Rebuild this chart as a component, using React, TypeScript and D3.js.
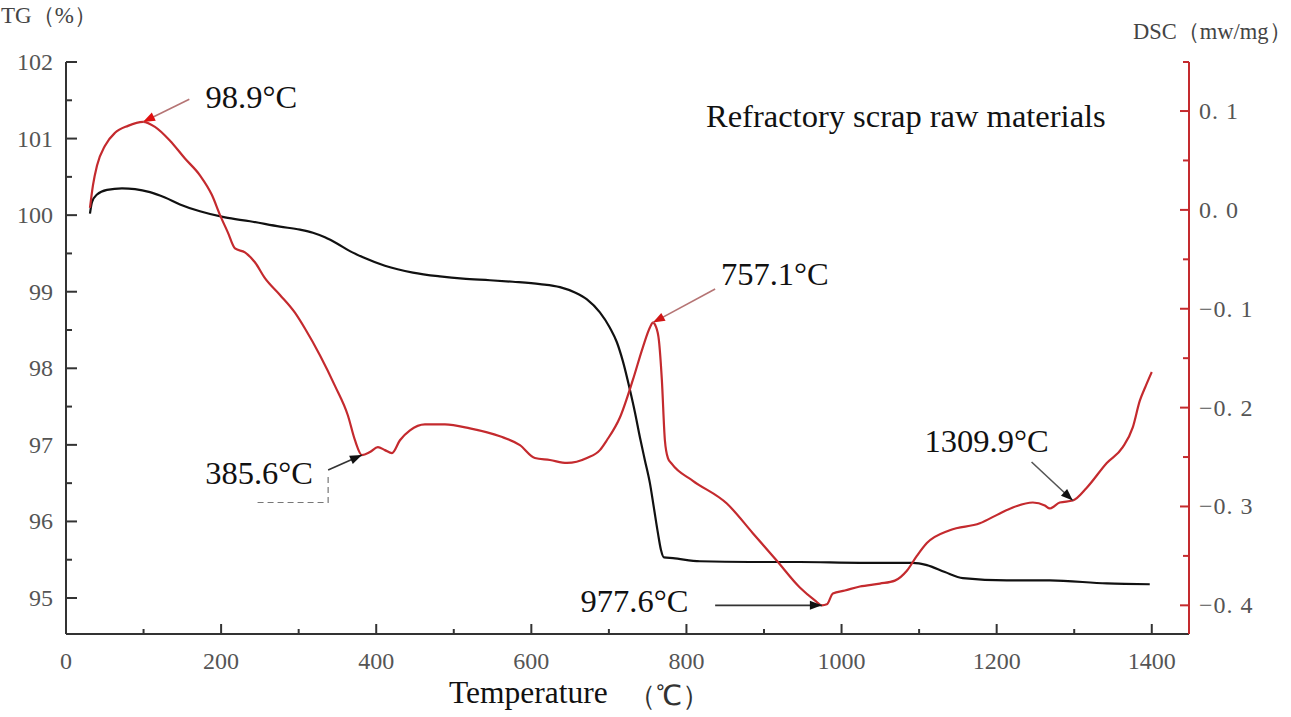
import React from "react";
import * as d3 from "d3";

// Temperature (°C) and TG (%)
const tgTemp = [30.9, 33.5, 40, 52.9, 72.2, 89, 108.3, 127.6, 147, 172.7, 205, 237.2, 275.9, 301.7, 318.4, 333.9, 349.4, 366.1, 382.9, 411.2, 447.3, 482.1, 511.8, 546.6, 576.3, 611.1, 636.9, 656.2, 671.7, 688.4, 701.3, 710.3, 718.1, 727.1, 733.5, 740, 746.4, 752.9, 758, 763.2, 767.1, 771, 782.6, 817.4, 881.8, 946.2, 1023.6, 1091.9, 1110, 1133.2, 1156.4, 1213.1, 1268.5, 1342, 1397.4];
const tgValues = [100.02, 100.17, 100.27, 100.33, 100.35, 100.34, 100.3, 100.23, 100.14, 100.05, 99.97, 99.92, 99.85, 99.81, 99.77, 99.71, 99.63, 99.53, 99.45, 99.34, 99.25, 99.2, 99.17, 99.15, 99.13, 99.1, 99.06, 98.99, 98.9, 98.73, 98.53, 98.34, 98.09, 97.72, 97.43, 97.1, 96.8, 96.5, 96.18, 95.85, 95.63, 95.53, 95.52, 95.48, 95.47, 95.47, 95.46, 95.46, 95.43, 95.34, 95.26, 95.23, 95.23, 95.19, 95.18];

// Temperature (°C) and DSC (mW/mg)
const dscTemp = [30.9, 34.8, 40, 50.3, 63.2, 79.9, 99.3, 114.7, 134.1, 153.4, 172.7, 188.2, 198.5, 208.8, 217.9, 230.7, 243.6, 256.5, 275.9, 295.2, 308.1, 327.4, 346.8, 363.5, 372.6, 381.6, 391.9, 402.2, 411.2, 420.3, 430.6, 443.5, 462.8, 488.6, 520.8, 559.5, 585.3, 604.6, 624, 645.9, 671.7, 688.4, 697.4, 714.2, 730.9, 743.8, 752.9, 756.7, 760.6, 764.5, 768.3, 772.2, 776.1, 781.2, 808.3, 852.1, 885.6, 916.6, 946.2, 965.6, 974.6, 981.1, 988.8, 1004.3, 1023.6, 1049.4, 1068.7, 1084.2, 1097.1, 1110, 1139.6, 1178.3, 1204.1, 1220.8, 1246.6, 1262.1, 1268.5, 1281.4, 1298.2, 1316.2, 1342, 1362.6, 1375.5, 1384.6, 1392.3, 1400];
const dscValues = [0.002, 0.025, 0.045, 0.065, 0.078, 0.085, 0.089, 0.084, 0.07, 0.052, 0.035, 0.015, -0.005, -0.023, -0.039, -0.043, -0.053, -0.069, -0.086, -0.104, -0.12, -0.147, -0.178, -0.208, -0.233, -0.248, -0.245, -0.24, -0.243, -0.246, -0.233, -0.223, -0.217, -0.217, -0.221, -0.229, -0.238, -0.251, -0.253, -0.256, -0.251, -0.243, -0.233, -0.21, -0.172, -0.139, -0.119, -0.114, -0.118, -0.132, -0.172, -0.233, -0.251, -0.257, -0.274, -0.297, -0.327, -0.355, -0.382, -0.395, -0.4, -0.399, -0.388, -0.385, -0.381, -0.378, -0.375, -0.365, -0.35, -0.337, -0.324, -0.317, -0.307, -0.301, -0.296, -0.299, -0.302, -0.296, -0.294, -0.281, -0.256, -0.24, -0.22, -0.193, -0.178, -0.164];

const xTicks = [0, 200, 400, 600, 800, 1000, 1200, 1400];
const xMinorTicks = [100, 300, 500, 700, 900, 1100, 1300];
const tgTicks = [95, 96, 97, 98, 99, 100, 101, 102];
const tgMinorTicks = [95.5, 96.5, 97.5, 98.5, 99.5, 100.5, 101.5];
const dscTicks = [0.1, 0.0, -0.1, -0.2, -0.3, -0.4];
const dscMinorTicks = [0.05, -0.05, -0.15, -0.25, -0.35];

// Annotations: label, temperature on the DSC curve, label centre (temperature, DSC value), arrow start
const peakLabels = ["98.9°C", "385.6°C", "757.1°C", "977.6°C", "1309.9°C"];
const peakTemps = [99.3, 381.6, 756.7, 974.6, 1298.2];
const labelTemps = [239, 249, 914, 733, 1187];
const labelDsc = [0.103, -0.277, -0.076, -0.407, -0.245];
const arrowStartTemps = [159, 338, 837, 837, 1245];
const arrowStartDsc = [0.112, -0.263, -0.08, -0.4, -0.255];
const arrowColors = ["#b57474", "#333", "#b57474", "#333", "#555"];
const headColors = ["#e01010", "#111", "#d01515", "#111", "#111"];

const W = 1291;
const H = 717;
const left = 66;
const right = 1189;
const top = 62;
const bottom = 634;

export default function App() {
  const x = d3.scaleLinear().domain([0, 1448]).range([left, right]);
  const yTG = d3.scaleLinear().domain([94.53, 102]).range([bottom, top]);
  const yDSC = d3.scaleLinear().domain([-0.429, 0.1496]).range([bottom, top]);

  const tgLine = d3
    .line<number>()
    .x((_, i) => x(tgTemp[i]))
    .y((d) => yTG(d))
    .curve(d3.curveMonotoneX);
  const dscLine = d3
    .line<number>()
    .x((_, i) => x(dscTemp[i]))
    .y((d) => yDSC(d))
    .curve(d3.curveMonotoneX);

  const tickFont = "'Liberation Serif', 'Times New Roman', serif";
  const axisGrey = "#333";
  const red = "#c42a2e";

  const arrowHead = (x1: number, y1: number, x2: number, y2: number, color: string, key: string) => {
    const ang = Math.atan2(y2 - y1, x2 - x1);
    const len = 12;
    const wid = 4.5;
    const bx = x2 - len * Math.cos(ang);
    const by = y2 - len * Math.sin(ang);
    const px = -Math.sin(ang) * wid;
    const py = Math.cos(ang) * wid;
    return (
      <polygon
        key={key}
        points={`${x2},${y2} ${bx + px},${by + py} ${bx - px},${by - py}`}
        fill={color}
      />
    );
  };

  return (
    <svg
      width={W}
      height={H}
      style={{ position: "absolute", left: 0, top: 0, background: "#fff" }}
      fontFamily={tickFont}
    >
      <rect x={0} y={0} width={W} height={H} fill="#fff" />

      {/* axis titles */}
      <text x={1} y={23} fontSize={23} fill="#444" fontFamily={tickFont}>
        TG（%）
      </text>
      <text x={1133} y={39} fontSize={22.5} fill="#444" fontFamily={tickFont}>
        DSC（mw/mg）
      </text>

      {/* left axis */}
      <line x1={left} x2={left} y1={top} y2={bottom} stroke={axisGrey} strokeWidth={2} />
      {tgTicks.map((t) => (
        <g key={"tg" + t}>
          <line x1={left} x2={left + 11} y1={yTG(t)} y2={yTG(t)} stroke={axisGrey} strokeWidth={2} />
          <text x={53} y={yTG(t) + 8} textAnchor="end" fontSize={24} fill="#555">
            {t}
          </text>
        </g>
      ))}
      {tgMinorTicks.map((t) => (
        <line key={"tgm" + t} x1={left} x2={left + 6} y1={yTG(t)} y2={yTG(t)} stroke={axisGrey} strokeWidth={2} />
      ))}

      {/* bottom axis */}
      <line x1={left} x2={right} y1={bottom} y2={bottom} stroke={axisGrey} strokeWidth={2} />
      {xTicks.map((t) => (
        <g key={"x" + t}>
          <line x1={x(t)} x2={x(t)} y1={bottom} y2={bottom - 10} stroke={axisGrey} strokeWidth={2} />
          <text x={x(t)} y={bottom + 35} textAnchor="middle" fontSize={24} fill="#555">
            {t}
          </text>
        </g>
      ))}
      {xMinorTicks.map((t) => (
        <line key={"xm" + t} x1={x(t)} x2={x(t)} y1={bottom} y2={bottom - 5} stroke={axisGrey} strokeWidth={2} />
      ))}
      <text x={449} y={703} fontSize={31.5} fill="#111" fontFamily={tickFont}>
        Temperature
      </text>
      <text x={628} y={705} fontSize={28} fill="#333" fontFamily={tickFont}>
        （℃）
      </text>

      {/* right axis */}
      <line x1={right} x2={right} y1={top} y2={bottom} stroke={red} strokeWidth={2} />
      <line x1={right - 6} x2={right} y1={top} y2={top} stroke={red} strokeWidth={2} />
      {dscTicks.map((t) => (
        <g key={"d" + t}>
          <line x1={right - 9} x2={right} y1={yDSC(t)} y2={yDSC(t)} stroke={red} strokeWidth={2} />
          <text x={right + 10} y={yDSC(t) + 8} fontSize={24} fill="#555" letterSpacing={1}>
            {(t < 0 ? "−" : "") + Math.abs(t).toFixed(1).replace(".", ". ")}
          </text>
        </g>
      ))}
      {dscMinorTicks.map((t) => (
        <line key={"dm" + t} x1={right - 6} x2={right} y1={yDSC(t)} y2={yDSC(t)} stroke={red} strokeWidth={2} />
      ))}

      {/* curves */}
      <path d={tgLine(tgValues) || ""} fill="none" stroke="#111" strokeWidth={2.2} />
      <path d={dscLine(dscValues) || ""} fill="none" stroke={red} strokeWidth={2.2} />

      {/* title */}
      <text x={706} y={127} fontSize={32.5} fill="#111" fontFamily={tickFont}>
        Refractory scrap raw materials
      </text>

      {/* annotations */}
      {peakLabels.map((lab, i) => {
        const tx = x(peakTemps[i]);
        const ty = yDSC(dscValues[dscTemp.indexOf(peakTemps[i])]);
        const sx = x(arrowStartTemps[i]);
        const sy = yDSC(arrowStartDsc[i]);
        return (
          <g key={lab}>
            <line x1={sx} y1={sy} x2={tx} y2={ty} stroke={arrowColors[i]} strokeWidth={1.6} />
            {arrowHead(sx, sy, tx, ty, headColors[i], "h" + i)}
            <text
              x={x(labelTemps[i])}
              y={yDSC(labelDsc[i])}
              fontSize={32.5}
              fill="#111"
              fontFamily={tickFont}
              textAnchor="middle"
            >
              {lab}
            </text>
          </g>
        );
      })}
      {/* dashed box remnant near 385.6°C label */}
      <path
        d={`M${x(247)},${yDSC(-0.296)} H${x(338)} V${yDSC(-0.268)}`}
        fill="none"
        stroke="#777"
        strokeWidth={1.2}
        strokeDasharray="6,4"
      />
    </svg>
  );
}
